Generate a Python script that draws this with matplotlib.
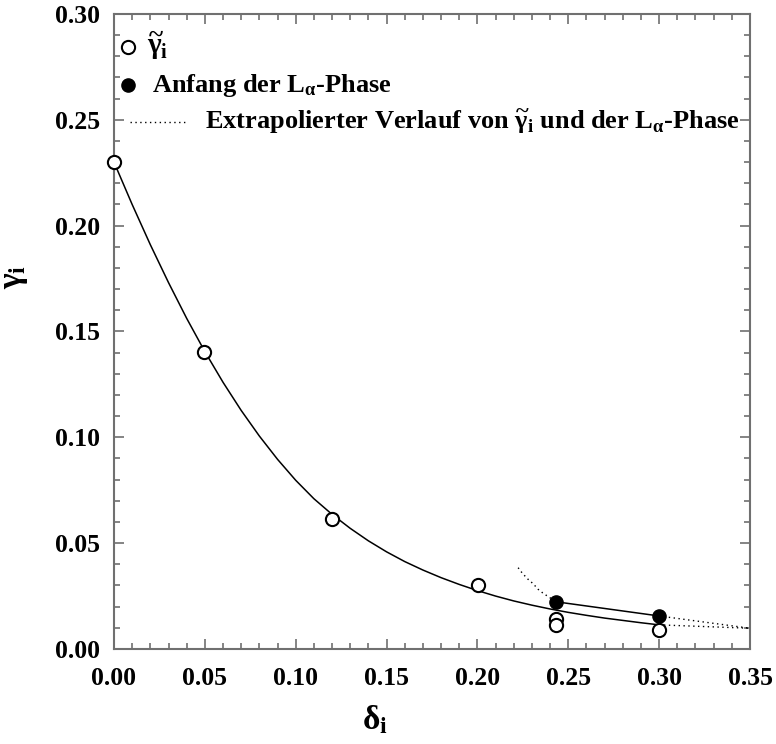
import matplotlib
matplotlib.use('Agg')
import matplotlib.pyplot as plt
from matplotlib.ticker import MultipleLocator

plt.rcParams['font.family'] = 'Liberation Serif'
plt.rcParams['font.weight'] = 'bold'
plt.rcParams['mathtext.fontset'] = 'custom'
plt.rcParams['mathtext.rm'] = 'Liberation Serif:bold'
plt.rcParams['mathtext.it'] = 'Liberation Serif:bold'
plt.rcParams['mathtext.bf'] = 'Liberation Serif:bold'

# gemessene gamma_i-Werte
delta = [0.0, 0.0495, 0.12, 0.2003, 0.2433, 0.2433, 0.30]
gamma = [0.2301, 0.1403, 0.0612, 0.0300, 0.0142, 0.0113, 0.0090]

# Anfang der L_alpha-Phase
delta_la = [0.2433, 0.30]
gamma_la = [0.0223, 0.0156]

# Anpassungskurve durch die gamma_i-Werte (Stuetzstellen alle 0.01)
fit_x = [i / 100 for i in range(31)]
fit_y = [0.2300, 0.2100, 0.1910, 0.1731, 0.1562, 0.1405, 0.1260, 0.1127,
         0.1006, 0.0896, 0.0797, 0.0710, 0.0636, 0.0570, 0.0511, 0.0459,
         0.0413, 0.0373, 0.0337, 0.0305, 0.0276, 0.0250, 0.0227, 0.0207,
         0.0189, 0.0173, 0.0159, 0.0146, 0.0135, 0.0124, 0.0114]

# Extrapolation
ext_left_x = [0.2224, 0.2248, 0.2279, 0.2307, 0.2334, 0.2362, 0.2433]
ext_left_y = [0.0384, 0.0357, 0.0329, 0.0308, 0.0282, 0.0263, 0.0223]
ext_la_x = [0.30, 0.35]
ext_la_y = [0.0156, 0.0098]
ext_fit_x = [0.30, 0.35]
ext_fit_y = [0.0114, 0.0098]

frame = '#707070'
dots = (0, (1, 2.5))

fig = plt.figure(figsize=(7.76, 7.44), dpi=100)
ax = fig.add_axes([0.1469, 0.1277, 0.8196, 0.8535])

ax.plot(fit_x, fit_y, color='black', lw=1.1, solid_joinstyle='round')
ax.plot(delta_la, gamma_la, color='black', lw=1.1)
ax.plot(ext_left_x, ext_left_y, color='black', lw=1.0, linestyle=dots)
ax.plot(ext_la_x, ext_la_y, color='black', lw=1.0, linestyle=dots)
ax.plot(ext_fit_x, ext_fit_y, color='black', lw=1.0, linestyle=dots)

ax.plot(delta, gamma, 'o', ms=9.5, mfc='white', mec='black', mew=1.5,
        clip_on=False, zorder=5)
ax.plot(delta_la, gamma_la, 'o', ms=9.5, mfc='black', mec='black',
        clip_on=False, zorder=5)

# Legende
ax.plot([0.022], [0.948], 'o', ms=9.5, mfc='white', mec='black', mew=1.5,
        transform=ax.transAxes)
ax.text(0.052, 0.950, r'$\widetilde{\gamma}_\mathrm{i}$', transform=ax.transAxes,
        fontsize=21, va='center', ha='left')
ax.plot([0.022], [0.888], 'o', ms=9.5, mfc='black', mec='black',
        transform=ax.transAxes)
ax.text(0.060, 0.888, r'Anfang der L$_\mathbf{\alpha}$-Phase',
        transform=ax.transAxes, fontsize=19, va='center', ha='left')
ax.plot([0.025, 0.112], [0.830, 0.830], color='black', lw=1.0,
        linestyle=dots, transform=ax.transAxes)
ax.text(0.143, 0.830,
        r'Extrapolierter Verlauf von $\widetilde{\gamma}_\mathrm{i}$ und der L$_\mathbf{\alpha}$-Phase',
        transform=ax.transAxes, fontsize=19, va='center', ha='left')

ax.set_xlim(0, 0.35)
ax.set_ylim(0, 0.30)
ax.xaxis.set_major_locator(MultipleLocator(0.05))
ax.xaxis.set_minor_locator(MultipleLocator(0.01))
ax.yaxis.set_major_locator(MultipleLocator(0.05))
ax.yaxis.set_minor_locator(MultipleLocator(0.01))
ax.xaxis.set_major_formatter(lambda v, p: f'{v:.2f}')
ax.yaxis.set_major_formatter(lambda v, p: f'{v:.2f}')

for s in ax.spines.values():
    s.set_color(frame)
    s.set_linewidth(1.5)
ax.tick_params(which='both', direction='in', top=True, right=True,
               color=frame, width=1.2, labelsize=18.5)
ax.tick_params(which='major', length=7)
ax.tick_params(which='minor', length=4)
ax.tick_params(axis='x', pad=13)
ax.tick_params(axis='y', pad=10)

ax.set_xlabel(r'$\delta_\mathrm{i}$', fontsize=24)
ax.set_ylabel(r'$\gamma_\mathrm{i}$', fontsize=24)
ax.xaxis.set_label_coords(0.41, -0.085)
ax.yaxis.set_label_coords(-0.132, 0.586)

fig.savefig('out.png', dpi=100)
